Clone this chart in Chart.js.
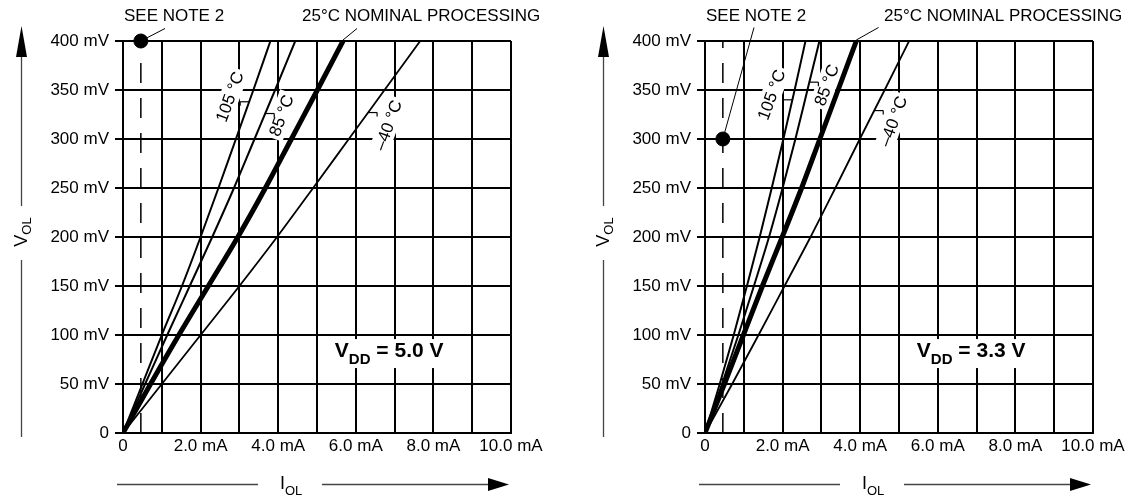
<!DOCTYPE html>
<html>
<head>
<meta charset="utf-8">
<script src="https://cdn.jsdelivr.net/npm/chart.js@4/dist/chart.umd.min.js"></script>
<style>
  html, body { margin: 0; padding: 0; background: #fff; overflow: hidden; }
  #wrap { position: relative; width: 1133px; height: 497px; }
  .panel { position: absolute; top: 0; width: 551px; height: 497px; }
</style>
</head>
<body>
<div id="wrap">
  <div class="panel" style="left:0"><canvas id="chart5v" width="551" height="497"></canvas></div>
  <div class="panel" style="left:582px"><canvas id="chart33v" width="551" height="497"></canvas></div>
</div>
<script>
// V_OL steps (mV), shared by every curve
const volSteps = [0, 50, 100, 150, 200, 250, 300, 350, 400];

// I_OL (mA) at each V_OL step, VDD = 5.0 V
const iol5_105 = [0, 0.50, 1.00, 1.52, 2.00, 2.46, 2.91, 3.36, 3.80];
const iol5_85 = [0, 0.57, 1.14, 1.72, 2.30, 2.86, 3.39, 3.92, 4.44];
const iol5_25 = [0, 0.71, 1.44, 2.20, 2.96, 3.67, 4.34, 5.01, 5.67];
const iol5_m40 = [0, 1.00, 2.00, 3.00, 3.97, 4.90, 5.82, 6.74, 7.66];

// I_OL (mA) at each V_OL step, VDD = 3.3 V
const iol33_105 = [0, 0.38, 0.74, 1.08, 1.41, 1.72, 2.02, 2.31, 2.59];
const iol33_85 = [0, 0.44, 0.86, 1.26, 1.65, 2.00, 2.33, 2.64, 2.95];
const iol33_25 = [0, 0.50, 0.99, 1.48, 1.99, 2.49, 2.96, 3.43, 3.90];
const iol33_m40 = [0, 0.70, 1.38, 2.05, 2.72, 3.36, 3.99, 4.63, 5.26];

// spec point (see note 2)
const note5 = { x: 0.46, y: 400 };
const note33 = { x: 0.46, y: 300 };

// axis ticks
const xTicks = [0, 2, 4, 6, 8, 10];
const yTicks = [0, 50, 100, 150, 200, 250, 300, 350, 400];

const FONT = '"Liberation Sans", Arial, Helvetica, sans-serif';

function pts(iol) {
    return volSteps.map((v, i) => ({ x: iol[i], y: v }));
}

function interpAt(iol, mv) {
    for (let i = 1; i < volSteps.length; i++) {
        if (mv <= volSteps[i]) {
            const t = (mv - volSteps[i - 1]) / (volSteps[i] - volSteps[i - 1]);
            return iol[i - 1] + t * (iol[i] - iol[i - 1]);
        }
    }
    return iol[iol.length - 1];
}

// text with a subscript, returns total width
function subText(ctx, x, y, main, sub, size, bold, dry) {
    const b = bold ? 'bold ' : '';
    ctx.font = b + size + 'px ' + FONT;
    const mw = ctx.measureText(main).width;
    if (!dry) ctx.fillText(main, x, y);
    ctx.font = b + Math.round(size * 0.72) + 'px ' + FONT;
    const sw = ctx.measureText(sub).width;
    if (!dry) ctx.fillText(sub, x + mw, y + size * 0.32);
    return mw + sw;
}

function line(ctx, x1, y1, x2, y2, w) {
    ctx.beginPath();
    ctx.lineWidth = w;
    ctx.moveTo(x1, y1);
    ctx.lineTo(x2, y2);
    ctx.stroke();
}

function makePanel(id, curves, note, cfg) {
    const labelsPlugin = {
        id: 'labels' + id,
        beforeDatasetsDraw(chart) {
            const ctx = chart.ctx;
            const xs = chart.scales.x, ys = chart.scales.y;
            ctx.save();
            ctx.textAlign = 'center';
            ctx.textBaseline = 'middle';
            cfg.temps.forEach(t => {
                const px = xs.getPixelForValue(t.x), py = ys.getPixelForValue(t.y);
                ctx.save();
                ctx.translate(px, py);
                ctx.rotate(-70 * Math.PI / 180);
                ctx.font = '17px ' + FONT;
                const w = ctx.measureText(t.text).width;
                ctx.fillStyle = '#fff';
                ctx.fillRect(-w / 2 - 3, -10, w + 6, 20);
                ctx.fillStyle = '#000';
                ctx.fillText(t.text, 0, 1);
                ctx.restore();
                // small leader from the curve
                const cy = ys.getPixelForValue(t.leadMv);
                const cx = xs.getPixelForValue(interpAt(t.curve, t.leadMv));
                ctx.strokeStyle = '#000';
                line(ctx, cx, cy, cx + 9 * t.side, cy, 1.2);
                line(ctx, cx + 9 * t.side, cy, cx + 9 * t.side, cy + 4, 1.2);
            });
            // VDD box
            const vx = xs.getPixelForValue(5.46), vy = ys.getPixelForValue(77.5);
            ctx.textAlign = 'left';
            ctx.textBaseline = 'alphabetic';
            let w = subText(ctx, vx, vy, 'V', 'DD', 21, true, true);
            ctx.font = 'bold 21px ' + FONT;
            w += ctx.measureText(' = ' + cfg.vdd).width;
            ctx.fillStyle = '#fff';
            ctx.fillRect(vx - 4, vy - 18, w + 8, 29);
            ctx.fillStyle = '#000';
            const sw = subText(ctx, vx, vy, 'V', 'DD', 21, true);
            ctx.font = 'bold 21px ' + FONT;
            ctx.fillText(' = ' + cfg.vdd, vx + sw, vy);
            ctx.restore();
        },
        afterDraw(chart) {
            const ctx = chart.ctx;
            const xs = chart.scales.x, ys = chart.scales.y;
            ctx.save();
            ctx.fillStyle = '#000';
            ctx.strokeStyle = '#000';
            ctx.font = '17px ' + FONT;
            ctx.textBaseline = 'middle';
            ctx.textAlign = 'left';
            ctx.fillText('SEE NOTE 2', 124, 16);
            ctx.fillText('25\u00B0C NOMINAL PROCESSING', 302, 16);
            // leaders for the top notes
            const dx = xs.getPixelForValue(note.x), dy = ys.getPixelForValue(note.y);
            const ang = Math.atan2(cfg.noteLead[1] - dy, cfg.noteLead[0] - dx);
            line(ctx, cfg.noteLead[0], cfg.noteLead[1], dx + 7 * Math.cos(ang), dy + 7 * Math.sin(ang), 1);
            const tx = xs.getPixelForValue(interpAt(curves[2], 400)), ty = ys.getPixelForValue(400);
            line(ctx, cfg.nomLead[0], cfg.nomLead[1], tx, ty - 1, 1);

            // V_OL title with arrow
            ctx.save();
            ctx.translate(22, 232);
            ctx.rotate(-Math.PI / 2);
            ctx.textBaseline = 'middle';
            const tw = subText(ctx, 0, 0, 'V', 'OL', 18, false, true);
            subText(ctx, -tw / 2, 0, 'V', 'OL', 18, false);
            ctx.restore();
            ctx.strokeStyle = '#444';
            line(ctx, 21.5, 50, 21.5, 206, 1.3);
            line(ctx, 21.5, 260, 21.5, 437, 1.3);
            ctx.beginPath();
            ctx.moveTo(21.5, 26);
            ctx.lineTo(16, 57);
            ctx.lineTo(27, 57);
            ctx.closePath();
            ctx.fill();

            // I_OL title with arrow
            ctx.textBaseline = 'alphabetic';
            subText(ctx, 280, 489, 'I', 'OL', 18, false);
            line(ctx, 117, 484.5, 258, 484.5, 1.3);
            line(ctx, 322, 484.5, 492, 484.5, 1.3);
            ctx.beginPath();
            ctx.moveTo(509, 484.5);
            ctx.lineTo(488, 478);
            ctx.lineTo(488, 491);
            ctx.closePath();
            ctx.fill();
            ctx.restore();
        }
    };

    const curveStyle = (data, w) => ({
        data: pts(data),
        borderColor: '#000',
        borderWidth: w,
        pointRadius: 0,
        cubicInterpolationMode: 'monotone',
        fill: false
    });

    return new Chart(document.getElementById(id), {
        type: 'line',
        data: {
            datasets: [
                {
                    data: [{ x: note.x, y: 0 }, { x: note.x, y: 400 }],
                    borderColor: '#000',
                    borderWidth: 1.5,
                    borderDash: [20, 15],
                    pointRadius: 0
                },
                curveStyle(curves[0], 2),
                curveStyle(curves[1], 2),
                curveStyle(curves[2], 5),
                curveStyle(curves[3], 1.8),
                {
                    type: 'scatter',
                    data: [note],
                    backgroundColor: '#000',
                    borderColor: '#000',
                    pointRadius: 7,
                    clip: false
                }
            ]
        },
        options: {
            responsive: false,
            animation: false,
            layout: { padding: { left: 0, right: 40, top: 41, bottom: 0 } },
            plugins: { legend: { display: false }, tooltip: { enabled: false } },
            scales: {
                x: {
                    type: 'linear',
                    min: 0,
                    max: 10,
                    afterFit: s => { s.height = 64; },
                    ticks: {
                        stepSize: 1,
                        autoSkip: false,
                        maxRotation: 0,
                        padding: 3,
                        color: '#000',
                        font: { family: FONT, size: 17 },
                        callback: v => xTicks.includes(v) ? (v === 0 ? '0' : v.toFixed(1) + ' mA') : ''
                    },
                    grid: { color: '#000', lineWidth: 2, drawTicks: false },
                    border: { color: '#000', width: 2 }
                },
                y: {
                    type: 'linear',
                    min: 0,
                    max: 400,
                    afterFit: s => { s.width = 123; },
                    ticks: {
                        stepSize: 50,
                        padding: 6,
                        color: '#000',
                        font: { family: FONT, size: 17 },
                        callback: v => yTicks.includes(v) ? (v === 0 ? '0' : v + ' mV') : ''
                    },
                    grid: { color: '#000', lineWidth: 2, tickLength: 8 },
                    border: { color: '#000', width: 2 }
                }
            }
        },
        plugins: [labelsPlugin]
    });
}

makePanel('chart5v', [iol5_105, iol5_85, iol5_25, iol5_m40], note5, {
    vdd: '5.0 V',
    noteLead: [165, 28.5],
    nomLead: [357, 28.5],
    temps: [
        { text: '105 \u00B0C', x: 2.75, y: 343, curve: iol5_105, leadMv: 338, side: -1 },
        { text: '85 \u00B0C', x: 4.08, y: 324, curve: iol5_85, leadMv: 326, side: 1 },
        { text: '\u201340 \u00B0C', x: 6.83, y: 314, curve: iol5_m40, leadMv: 327, side: 1 }
    ]
});

makePanel('chart33v', [iol33_105, iol33_85, iol33_25, iol33_m40], note33, {
    vdd: '3.3 V',
    noteLead: [172, 27.5],
    nomLead: [296.5, 27.5],
    temps: [
        { text: '105 \u00B0C', x: 1.71, y: 345, curve: iol33_105, leadMv: 340, side: -1 },
        { text: '85 \u00B0C', x: 3.13, y: 355, curve: iol33_85, leadMv: 358, side: 1 },
        { text: '\u201340 \u00B0C', x: 4.85, y: 318, curve: iol33_m40, leadMv: 329, side: 1 }
    ]
});
</script>
</body>
</html>
